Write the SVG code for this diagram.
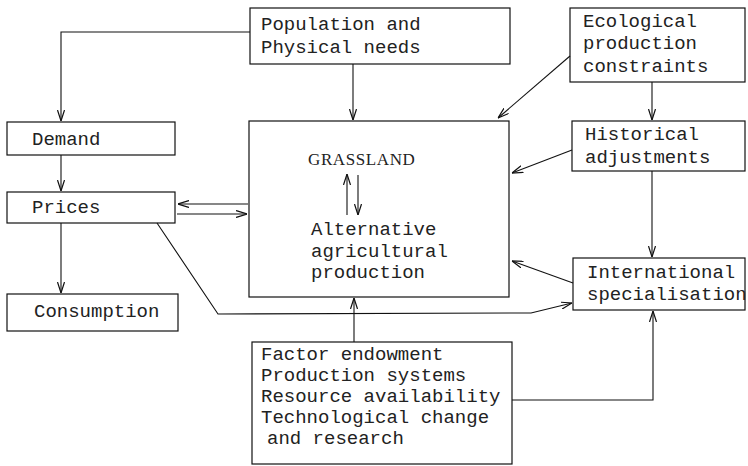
<svg xmlns="http://www.w3.org/2000/svg" width="748" height="466" viewBox="0 0 748 466">
<defs>
<marker id="arr" viewBox="0 0 11 8" refX="11" refY="4" markerWidth="11" markerHeight="8" markerUnits="userSpaceOnUse" orient="auto">
<path d="M0,0.5 L11,4 L0,7.5" fill="none" stroke="#111" stroke-width="1.2"/>
</marker>
</defs>
<style>
rect.box{fill:#fff;stroke:#111;stroke-width:1.2}
text{font-family:"Liberation Mono","DejaVu Sans Mono",monospace;font-size:19px;fill:#222}
text.serif{font-family:"Liberation Serif","DejaVu Serif",serif;font-size:17px;letter-spacing:0.6px}
.conn path,.conn line,.conn polyline{fill:none;stroke:#111;stroke-width:1.1;marker-end:url(#arr)}
</style>
<rect width="748" height="466" fill="#fff"/>
<g id="population">
<rect class="box" x="250" y="8" width="260" height="56"/>
<text x="261" y="30">Population and</text>
<text x="261" y="53">Physical needs</text>
</g>
<g id="ecological">
<rect class="box" x="570" y="8" width="175" height="74"/>
<text x="583" y="27">Ecological</text>
<text x="583" y="49">production</text>
<text x="583" y="72">constraints</text>
</g>
<g id="historical">
<rect class="box" x="572" y="121" width="173" height="50"/>
<text x="585" y="140">Historical</text>
<text x="585" y="163">adjustments</text>
</g>
<g id="demand">
<rect class="box" x="7" y="122" width="168" height="33"/>
<text x="32" y="145">Demand</text>
</g>
<g id="prices">
<rect class="box" x="7" y="192" width="168" height="31"/>
<text x="32" y="213">Prices</text>
</g>
<g id="consumption">
<rect class="box" x="7" y="294" width="171" height="37"/>
<text x="34" y="317">Consumption</text>
</g>
<g id="grassland">
<rect class="box" x="249" y="121" width="260" height="176"/>
<text class="serif" x="308" y="165">GRASSLAND</text>
<text x="311" y="235">Alternative</text>
<text x="311" y="257">agricultural</text>
<text x="311" y="278">production</text>
</g>
<g id="international">
<rect class="box" x="573" y="258" width="172" height="52"/>
<text x="587" y="278">International</text>
<text x="587" y="300">specialisation</text>
</g>
<g id="factors">
<rect class="box" x="252" y="342" width="260" height="122"/>
<text x="261" y="360">Factor endowment</text>
<text x="261" y="381">Production systems</text>
<text x="261" y="402">Resource availability</text>
<text x="261" y="423">Technological change</text>
<text x="267" y="444">and research</text>
</g>
<g class="conn" id="connectors">
<polyline points="250,32 61,32 61,121"/>
<line x1="353" y1="64" x2="353" y2="120"/>
<line x1="570" y1="56" x2="498" y2="118"/>
<line x1="652" y1="82" x2="652" y2="120"/>
<line x1="572" y1="150" x2="512" y2="173"/>
<line x1="652" y1="171" x2="652" y2="257"/>
<line x1="573" y1="283" x2="512" y2="261"/>
<polyline points="157,223 218,314 531,313 572,303"/>
<line x1="248" y1="204" x2="178" y2="204"/>
<line x1="177" y1="214" x2="247" y2="214"/>
<line x1="61" y1="155" x2="61" y2="191"/>
<line x1="61" y1="223" x2="61" y2="293"/>
<line x1="354" y1="342" x2="354" y2="298"/>
<polyline points="512,400 653,400 653,311"/>
<line x1="347" y1="215" x2="347" y2="174"/>
<line x1="358" y1="175" x2="358" y2="215"/>
</g>
</svg>
